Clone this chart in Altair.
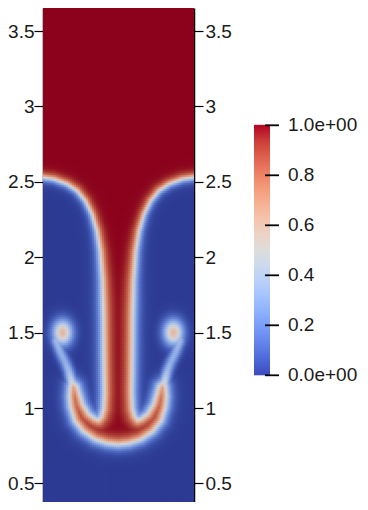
import numpy as np
import pandas as pd
import altair as alt

alt.data_transformers.disable_max_rows()

# ---------------- values ----------------
# y axis ticks
y_ticks = [0.5, 1.0, 1.5, 2.0, 2.5, 3.0, 3.5]
# visible y range of the plot window
y_domain = [0.3767, 3.6526]

# 0.5-contour of the heavy (red) fluid, left half, from the wall down the stem,
# around the pocket and along the cap to the centre line
iface_x = [-0.20, -0.20, 0.000, 0.074, 0.162, 0.228, 0.283, 0.327, 0.360, 0.382,
           0.397, 0.404, 0.407, 0.410, 0.405, 0.390, 0.370, 0.345, 0.305, 0.265,
           0.243, 0.228, 0.205, 0.185, 0.178, 0.186, 0.214, 0.270, 0.349, 0.425]
iface_y = [4.300, 2.538, 2.534, 2.523, 2.490, 2.446, 2.379, 2.291, 2.180, 2.048,
           1.849, 1.600, 1.300, 1.100, 1.000, 0.950, 0.925, 0.935, 0.965, 1.030,
           1.100, 1.150, 1.170, 1.150, 1.080, 1.009, 0.920, 0.850, 0.797, 0.772]
cap_bottom = 0.763

# thin mixed tail from the roll-up down to the cap (left side)
tail_x = [0.090, 0.120, 0.151, 0.173, 0.190, 0.205]
tail_y = [1.450, 1.370, 1.307, 1.252, 1.190, 1.130]
tail_v = [0.36, 0.32, 0.32, 0.36, 0.46, 0.62]

# roll-up blob (left side)
blob_x = [0.133]
blob_y = [1.505]
blob_v = [0.62]

# colour map (cool to warm) stops
cmap_stops = [0.0, 0.0625, 0.125, 0.1875, 0.25, 0.3125, 0.375, 0.4375, 0.5,
              0.5625, 0.625, 0.6875, 0.75, 0.8125, 0.875, 0.9375, 1.0]
cmap_rgb = [(59, 76, 192), (77, 104, 215), (98, 130, 234), (119, 154, 247),
            (141, 176, 254), (163, 194, 255), (184, 208, 249), (204, 217, 238),
            (221, 221, 221), (236, 211, 197), (245, 196, 173), (247, 177, 148),
            (244, 154, 123), (236, 127, 99), (222, 96, 77), (203, 62, 56),
            (180, 4, 38)]

# colour bar
cb_ticks = [0.0, 0.2, 0.4, 0.6, 0.8, 1.0]
cb_labels = ["0.0e+00", "0.2", "0.4", "0.6", "0.8", "1.0e+00"]

# ---------------- build the field from the traced shapes ----------------
poly_x = iface_x + [0.5] + [1 - v for v in iface_x[::-1]]
poly_y = iface_y + [cap_bottom] + iface_y[::-1]

nx, ny = 76, 247
dx = 1.0 / nx
dy = (y_domain[1] - y_domain[0]) / ny
xc = (np.arange(nx) + 0.5) * dx
yc = y_domain[0] + (np.arange(ny) + 0.5) * dy
PX, PY = np.meshgrid(xc, yc)
PX = PX.ravel()
PY = PY.ravel()


def signed_distance(px, py, sx, sy):
    n = len(sx)
    d = np.full(px.shape, np.inf)
    inside = np.zeros(px.shape, bool)
    with np.errstate(divide="ignore", invalid="ignore"):
        for i in range(n):
            ax, ay = sx[i], sy[i]
            bx, by = sx[(i + 1) % n], sy[(i + 1) % n]
            ex, ey = bx - ax, by - ay
            t = np.clip(((px - ax) * ex + (py - ay) * ey) / (ex * ex + ey * ey), 0, 1)
            d = np.minimum(d, np.hypot(px - ax - t * ex, py - ay - t * ey))
            cond = (ay > py) != (by > py)
            xint = ax + (py - ay) * (bx - ax) / (by - ay)
            inside ^= cond & (px < xint)
    return np.where(inside, d, -d)


def tube(px, py, sx, sy, sv, r):
    out = np.zeros(px.shape)
    for i in range(len(sx) - 1):
        ax, ay, bx, by = sx[i], sy[i], sx[i + 1], sy[i + 1]
        ex, ey = bx - ax, by - ay
        t = np.clip(((px - ax) * ex + (py - ay) * ey) / (ex * ex + ey * ey), 0, 1)
        d = np.hypot(px - ax - t * ex, py - ay - t * ey)
        amp = sv[i] + t * (sv[i + 1] - sv[i])
        out = np.maximum(out, amp * np.exp(-(d / r) ** 2))
    return out


sd = signed_distance(PX, PY, poly_x, poly_y)
w = 0.034 + 0.016 * np.clip((2.3 - PY) / 0.6, 0, 1)
val = 0.5 * (1 + np.tanh(sd / w))
for side in (0, 1):
    tx = tail_x if side == 0 else [1 - v for v in tail_x]
    val = np.maximum(val, tube(PX, PY, tx, tail_y, tail_v, 0.036))
    for bx, by, bv in zip(blob_x, blob_y, blob_v):
        bxx = bx if side == 0 else 1 - bx
        val = np.maximum(val, bv * np.exp(-(((PX - bxx) / 0.068) ** 2 + ((PY - by) / 0.088) ** 2)))

field_df = pd.DataFrame({"x": np.round(PX, 4), "y": np.round(PY, 4), "v": np.round(val, 3)})


def hexc(c):
    return "#%02x%02x%02x" % tuple(int(round(max(0, min(255, k)))) for k in c)


bar_colors = [hexc(c) for c in cmap_rgb]
field_colors = []
for s, c in zip(cmap_stops, cmap_rgb):
    f = 0.96 - 0.19 * abs(2 * s - 1) ** 1.2
    field_colors.append(hexc([k * f for k in c]))

hx = dx / 2 + 0.004
hy = dy / 2 + 0.004

font = "Liberation Sans"
axis_common = dict(
    values=y_ticks, labelExpr="format(datum.value, '~g')", title=None, grid=False,
    domainColor="#000000", domainWidth=1.5, tickColor="#000000", tickWidth=1.2,
    tickSize=9, labelFont=font, labelFontSize=19, labelColor="#1a1a1a",
    labelFlush=False, labelOverlap=False,
)

field = alt.Chart(field_df).transform_calculate(
    x1=f"datum.x - {hx}", x2=f"datum.x + {hx}",
    y1=f"datum.y - {hy}", y2=f"datum.y + {hy}",
).mark_rect(clip=True).encode(
    x=alt.X("x1:Q", scale=alt.Scale(domain=[0, 1], nice=False, zero=False), axis=None),
    x2="x2:Q",
    y=alt.Y("y1:Q", scale=alt.Scale(domain=y_domain, nice=False, zero=False),
            axis=alt.Axis(orient="left", labelPadding=0, **axis_common)),
    y2="y2:Q",
    color=alt.Color("v:Q", scale=alt.Scale(domain=cmap_stops, range=field_colors,
                                           interpolate="rgb"), legend=None),
)

right_axis = alt.Chart(pd.DataFrame({"t": y_ticks})).mark_point(opacity=0).encode(
    y=alt.Y("t:Q", scale=alt.Scale(domain=y_domain, nice=False, zero=False),
            axis=alt.Axis(orient="right", labelPadding=2, **axis_common)),
)

# colour bar: its own y scale, 0..1 maps to 250 px
cb_dom = [-0.5068, 1.4692]
step = 0.008
cb_v = list(np.round(np.arange(0, 1, step), 3))
cb_df = pd.DataFrame({"v": cb_v})
cb_rects = alt.Chart(cb_df).transform_calculate(
    v2=f"datum.v + {step} + 0.002", vc=f"datum.v + {step / 2}"
).mark_rect().encode(
    x=alt.value(211), x2=alt.value(227),
    y=alt.Y("v:Q", scale=alt.Scale(domain=cb_dom, nice=False, zero=False), axis=None),
    y2="v2:Q",
    color=alt.Color("vc:Q", scale=alt.Scale(domain=cmap_stops, range=bar_colors,
                                            interpolate="rgb"), legend=None),
)
cb_tick_df = pd.DataFrame({"t": cb_ticks, "lab": cb_labels})
cb_rules = alt.Chart(cb_tick_df).mark_rule(color="#000000", strokeWidth=1.8).encode(
    x=alt.value(222), x2=alt.value(236),
    y=alt.Y("t:Q", scale=alt.Scale(domain=cb_dom, nice=False, zero=False), axis=None),
)
cb_text = alt.Chart(cb_tick_df).mark_text(
    align="left", baseline="middle", font=font, fontSize=19, color="#1a1a1a"
).encode(
    x=alt.value(245),
    y=alt.Y("t:Q", scale=alt.Scale(domain=cb_dom, nice=False, zero=False), axis=None),
    text="lab:N",
)
colorbar = alt.layer(cb_rects, cb_rules, cb_text)

chart = alt.layer(field, right_axis, colorbar).resolve_scale(
    y="independent", color="independent"
).properties(
    width=151, height=494,
    autosize=alt.AutoSizeParams(type="none"),
    padding={"left": 35, "top": 0, "right": 166, "bottom": 0},
).configure_view(stroke=None)

chart.save("out.html", embed_options={"renderer": "svg", "actions": False})
